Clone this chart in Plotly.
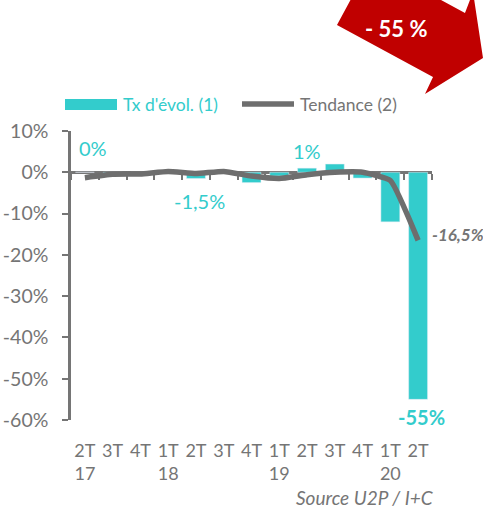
import plotly.graph_objects as go

# ---------------- data ----------------
quarters = ["2T", "3T", "4T", "1T", "2T", "3T", "4T", "1T", "2T", "3T", "4T", "1T", "2T"]
years = ["17", "", "", "18", "", "", "", "19", "", "", "", "20", ""]
tx_evol = [0, -0.4, -0.5, 0.3, -1.5, 0.4, -2.5, -0.9, 1.0, 2.0, -1.4, -12.0, -55.0]
tendance = [-1.3, -0.5, -0.4, 0.2, -0.3, 0.2, -0.9, -1.5, -0.6, 0.0, 0.0, -2.0, -16.5]
bar_labels = ["0%", None, None, None, "-1,5%", None, None, None, "1%", None, None, None, "-55%"]
trend_label = "-16,5%"
y_ticks = [10, 0, -10, -20, -30, -40, -50, -60]
legend_names = ["Tx d'évol. (1)", "Tendance (2)"]
source_text = "Source U2P / I+C"
arrow_text = "- 55 %"

# ---------------- style ----------------
W, H = 483, 511
ML, MR, MT, MB = 71, 51, 131, 91
CYAN = "#33CCCC"
GRAY = "#757575"
LINE_GRAY = "#6E6E6E"
RED = "#C00000"
FONT = "Lato, 'Open Sans', sans-serif"

pw, ph = W - ML - MR, H - MT - MB


def px(x):
    return (x - ML) / pw


def py(y):
    return (H - MB - y) / ph


n = len(quarters)
xs = list(range(n))
ticktext = [q + ("<br>" + y if y else "<br> ") for q, y in zip(quarters, years)]
ymin, ymax = min(y_ticks), max(y_ticks)

fig = go.Figure()
fig.add_trace(go.Bar(x=xs, y=tx_evol, marker_color=CYAN, width=0.68,
                     xaxis="x2", yaxis="y", showlegend=False, hoverinfo="skip"))
fig.add_trace(go.Scatter(x=xs, y=tendance, mode="lines",
                         line=dict(color=LINE_GRAY, width=5.5, shape="spline", smoothing=0.4),
                         xaxis="x2", yaxis="y", showlegend=False, hoverinfo="skip"))
# invisible trace for the labelled bottom axis
fig.add_trace(go.Scatter(x=xs, y=[None] * n, mode="markers", xaxis="x", yaxis="y",
                         showlegend=False, hoverinfo="skip"))

annotations = []
label_shift = {0: (8, 24), 4: (4, -23), 8: (0, 17), 12: (3, -18)}
for i, t in enumerate(bar_labels):
    if t is None:
        continue
    dx, dy = label_shift[i]
    annotations.append(dict(x=xs[i], y=tx_evol[i], xref="x2", yref="y", text=t,
                            showarrow=False, xshift=dx, yshift=dy,
                            font=dict(family=FONT, size=20, color=CYAN,
                                      weight="bold" if i == n - 1 else "normal")))
annotations.append(dict(x=xs[-1], y=tendance[-1], xref="x2", yref="y", text="<b><i>" + trend_label + "</i></b>",
                        showarrow=False, xanchor="left", xshift=12, yshift=6,
                        font=dict(family=FONT, size=17, color=GRAY)))
# legend
annotations.append(dict(x=px(121), y=py(104.5), xref="paper", yref="paper", text=legend_names[0],
                        showarrow=False, xanchor="left", yanchor="middle",
                        font=dict(family=FONT, size=17.5, color=CYAN)))
annotations.append(dict(x=px(298), y=py(104.5), xref="paper", yref="paper", text=legend_names[1],
                        showarrow=False, xanchor="left", yanchor="middle",
                        font=dict(family=FONT, size=17.5, color=GRAY)))
# source
annotations.append(dict(x=px(436), y=py(497.5), xref="paper", yref="paper", text="<i>" + source_text + "</i>",
                        showarrow=False, xanchor="right", yanchor="middle",
                        font=dict(family=FONT, size=19, color=GRAY)))
# arrow text
annotations.append(dict(x=px(396), y=py(29), xref="paper", yref="paper", text="<b>" + arrow_text + "</b>",
                        showarrow=False, xanchor="center", yanchor="middle",
                        font=dict(family=FONT, size=22, color="white")))

arrow_pts = [(337, 25), (433, 77), (425, 94), (483, 58), (473, -8), (465, 13), (371, -38)]
arrow_path = "M " + " L ".join(f"{px(a):.4f},{py(b):.4f}" for a, b in arrow_pts) + " Z"

shapes = [
    dict(type="path", path=arrow_path, xref="paper", yref="paper",
         fillcolor=RED, line=dict(width=0), layer="below"),
    dict(type="rect", x0=px(65), x1=px(117), y0=py(110), y1=py(99), xref="paper", yref="paper",
         fillcolor=CYAN, line=dict(width=0)),
    dict(type="line", x0=px(242), x1=px(294), y0=py(104), y1=py(104), xref="paper", yref="paper",
         line=dict(color=LINE_GRAY, width=5.5)),
]

fig.update_layout(
    width=W, height=H,
    margin=dict(l=ML, r=MR, t=MT, b=MB),
    paper_bgcolor="white", plot_bgcolor="white",
    showlegend=False,
    bargap=0.32,
    font=dict(family=FONT, color=GRAY),
    xaxis=dict(range=[-0.5, n - 0.5], tickvals=xs, ticktext=ticktext,
               tickfont=dict(family=FONT, size=18, color=GRAY),
               showline=False, ticks="", showgrid=False, zeroline=False,
               ticklabelstandoff=18, automargin=False),
    xaxis2=dict(range=[-0.5, n - 0.5], overlaying="x", anchor="free",
                position=(0 - ymin) / (ymax - ymin),
                showticklabels=False, showgrid=False, zeroline=False,
                showline=True, linecolor=GRAY, linewidth=2.5,
                ticks="outside", tickvals=[i - 0.5 for i in range(n + 1)],
                ticklen=6, tickwidth=2, tickcolor=GRAY, layer="below traces"),
    yaxis=dict(range=[ymin, ymax], tickvals=y_ticks, ticktext=[f"{v}%" for v in y_ticks],
               tickfont=dict(family=FONT, size=19.5, color=GRAY),
               showline=True, linecolor=GRAY, linewidth=2.5,
               ticks="outside", ticklen=6, tickwidth=2, tickcolor=GRAY,
               showgrid=False, zeroline=False, ticklabelstandoff=10, automargin=False),
    annotations=annotations,
    shapes=shapes,
)

fig.write_html("out.html", config={"displayModeBar": False},
               post_script="document.body.style.margin='0';document.body.style.overflow='hidden';")
